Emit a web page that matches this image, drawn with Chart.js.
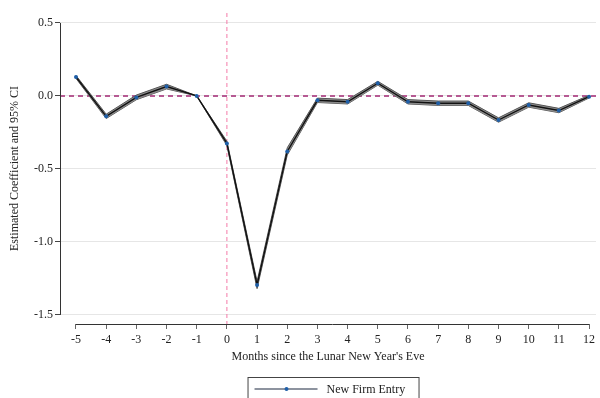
<!DOCTYPE html>
<html>
<head>
<meta charset="utf-8">
<script src="https://cdn.jsdelivr.net/npm/chart.js@4/dist/chart.umd.min.js"></script>
<style>
  html, body { margin: 0; padding: 0; background: #fff; }
  #wrap { position: relative; width: 600px; height: 398px; }
</style>
</head>
<body>
<div id="wrap"><canvas id="chart"></canvas></div>
<script>
// months relative to the Lunar New Year's Eve
const months = [-5, -4, -3, -2, -1, 0, 1, 2, 3, 4, 5, 6, 7, 8, 9, 10, 11, 12];
const coef   = [0.13, -0.14, -0.01, 0.064, 0.0, -0.325, -1.295, -0.38, -0.03, -0.04, 0.087, -0.04, -0.05, -0.05, -0.165, -0.062, -0.10, -0.005];
const ciHigh = [0.14, -0.125, 0.006, 0.08, 0.0, -0.31, -1.27, -0.355, -0.015, -0.025, 0.10, -0.025, -0.035, -0.035, -0.15, -0.047, -0.085, 0.004];
const ciLow  = [0.12, -0.155, -0.026, 0.048, 0.0, -0.34, -1.32, -0.405, -0.045, -0.055, 0.074, -0.055, -0.065, -0.065, -0.18, -0.077, -0.115, -0.014];
const yTicks = [-1.5, -1.0, -0.5, 0.0, 0.5];

const FONT = 'Liberation Serif, Times New Roman, serif';
const pts = arr => months.map((m, i) => ({ x: m, y: arr[i] }));

// Stata-style axes, reference lines and boxed legend
const decor = {
    id: 'decor',
    beforeDatasetsDraw(chart) {
        const { ctx, chartArea: a, scales: { x, y } } = chart;
        ctx.save();
        // horizontal zero line
        ctx.strokeStyle = '#b65a93';
        ctx.lineWidth = 2;
        ctx.setLineDash([5, 4]);
        ctx.beginPath();
        ctx.moveTo(a.left, y.getPixelForValue(0));
        ctx.lineTo(a.right, y.getPixelForValue(0));
        ctx.stroke();
        // vertical line at month 0
        ctx.strokeStyle = '#f47aa9';
        ctx.lineWidth = 1;
        ctx.setLineDash([4, 3]);
        ctx.beginPath();
        ctx.moveTo(x.getPixelForValue(0), a.top);
        ctx.lineTo(x.getPixelForValue(0), a.bottom);
        ctx.stroke();
        ctx.restore();
    },
    afterDraw(chart) {
        const { ctx, chartArea: a, scales: { x, y } } = chart;
        ctx.save();
        ctx.strokeStyle = '#333';
        ctx.lineWidth = 1;
        ctx.beginPath();
        ctx.moveTo(a.left + 0.5, y.getPixelForValue(yTicks[yTicks.length - 1]));
        ctx.lineTo(a.left + 0.5, y.getPixelForValue(yTicks[0]));
        ctx.moveTo(x.getPixelForValue(months[0]), a.bottom + 0.5);
        ctx.lineTo(x.getPixelForValue(months[months.length - 1]), a.bottom + 0.5);
        ctx.stroke();

        // legend
        const cx = (x.getPixelForValue(months[0]) + x.getPixelForValue(months[months.length - 1])) / 2;
        const lx = cx - 85, ly = 377, ymid = 389;
        ctx.strokeStyle = '#444';
        ctx.strokeRect(lx + 0.5, ly + 0.5, 171, 30);
        ctx.strokeStyle = '#1c2940';
        ctx.lineWidth = 1.2;
        ctx.beginPath();
        ctx.moveTo(lx + 7, ymid);
        ctx.lineTo(lx + 70, ymid);
        ctx.stroke();
        ctx.fillStyle = '#1f5fa8';
        ctx.beginPath();
        ctx.arc(lx + 39, ymid, 2, 0, Math.PI * 2);
        ctx.fill();
        ctx.fillStyle = '#222';
        ctx.font = '12px ' + FONT;
        ctx.textBaseline = 'middle';
        ctx.fillText('New Firm Entry', lx + 79, ymid + 1);
        ctx.restore();
    }
};

new Chart(document.getElementById('chart'), {
    type: 'line',
    data: {
        datasets: [
            { label: 'New Firm Entry', data: pts(coef), borderColor: '#111', borderWidth: 1.4,
              pointRadius: 2, pointBackgroundColor: '#1f5fa8', pointBorderWidth: 0, fill: false, tension: 0 },
            { label: 'CI high', data: pts(ciHigh), borderColor: '#555', borderWidth: 1,
              pointRadius: 0, fill: '+1', backgroundColor: 'rgba(130,130,130,0.9)', tension: 0 },
            { label: 'CI low', data: pts(ciLow), borderColor: '#555', borderWidth: 1,
              pointRadius: 0, fill: false, tension: 0 }
        ]
    },
    options: {
        responsive: true,
        maintainAspectRatio: false,
        animation: false,
        layout: { padding: { top: 13, right: 2, bottom: 0, left: 0 } },
        plugins: { legend: { display: false }, tooltip: { enabled: false } },
        scales: {
            x: {
                type: 'linear', min: -5.53, max: 12.23,
                afterBuildTicks: s => { s.ticks = months.map(v => ({ value: v })); },
                afterFit: s => { s.height = 74; },
                border: { display: false },
                grid: { drawOnChartArea: false, drawTicks: true, tickLength: 5, tickColor: '#666' },
                ticks: { padding: 4, color: '#222', font: { family: FONT, size: 12 }, maxRotation: 0 },
                title: { display: true, text: "Months since the Lunar New Year's Eve", color: '#222',
                         font: { family: FONT, size: 12 }, padding: { top: 0, bottom: 34 } }
            },
            y: {
                min: -1.562, max: 0.568,
                afterBuildTicks: s => { s.ticks = yTicks.map(v => ({ value: v })); },
                afterFit: s => { s.width = 60; },
                border: { display: false },
                grid: { color: '#e6e6e6', tickLength: 5, tickColor: '#444' },
                ticks: { padding: 2, color: '#222', font: { family: FONT, size: 12 }, callback: v => v.toFixed(1) },
                title: { display: true, text: 'Estimated Coefficient and 95% CI', color: '#222',
                         font: { family: FONT, size: 12 }, padding: { top: 8, bottom: 0 } }
            }
        }
    },
    plugins: [decor]
});
</script>
</body>
</html>
